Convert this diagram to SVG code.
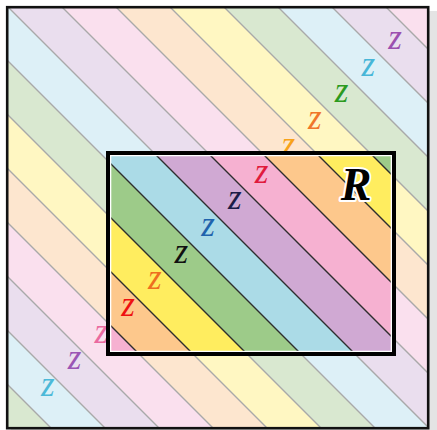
<svg xmlns="http://www.w3.org/2000/svg" width="437" height="430" viewBox="0 0 437 430">
<style>
.o0{fill:#eadeee}.o1{fill:#fae0ee}.o2{fill:#fde6cf}.o3{fill:#fff7c2}.o4{fill:#d9e8d0}.o5{fill:#ddf0f7}
.i0{fill:#d0a9d3}.i1{fill:#f6b1d1}.i2{fill:#fdc88c}.i3{fill:#ffed5f}.i4{fill:#9dcb89}.i5{fill:#abdbe7}
.z{font-family:"Liberation Serif","Times New Roman",serif;font-style:italic;font-size:35px;text-anchor:middle}
</style>
<defs>
<clipPath id="clipOuter"><rect x="8" y="8" width="420" height="420"/></clipPath>
<clipPath id="clipInner"><rect x="111.3" y="156.3" width="279.4" height="194.4"/></clipPath>
</defs>
<rect x="0" y="0" width="437" height="430" fill="#ffffff"/>
<rect id="shadow" x="11" y="11" width="430" height="430" fill="#e4e4e4"/>
<g id="outer" clip-path="url(#clipOuter)">
<rect x="0" y="0" width="437" height="430" fill="#fff"/>
<polygon class="o4" points="-451,-20 -397,-20 73,450 19,450"/>
<polygon class="o5" points="-397,-20 -343,-20 127,450 73,450"/>
<polygon class="o0" points="-343,-20 -289,-20 181,450 127,450"/>
<polygon class="o1" points="-289,-20 -235,-20 235,450 181,450"/>
<polygon class="o2" points="-235,-20 -181,-20 289,450 235,450"/>
<polygon class="o3" points="-181,-20 -127,-20 343,450 289,450"/>
<polygon class="o4" points="-127,-20 -73,-20 397,450 343,450"/>
<polygon class="o5" points="-73,-20 -19,-20 451,450 397,450"/>
<polygon class="o0" points="-19,-20 35,-20 505,450 451,450"/>
<polygon class="o1" points="35,-20 89,-20 559,450 505,450"/>
<polygon class="o2" points="89,-20 143,-20 613,450 559,450"/>
<polygon class="o3" points="143,-20 197,-20 667,450 613,450"/>
<polygon class="o4" points="197,-20 251,-20 721,450 667,450"/>
<polygon class="o5" points="251,-20 305,-20 775,450 721,450"/>
<polygon class="o0" points="305,-20 359,-20 829,450 775,450"/>
<polygon class="o1" points="359,-20 413,-20 883,450 829,450"/>
<path id="outerLines" fill="none" stroke="#a9a9a9" stroke-width="1.4" d="M-397 -20L73 450M-343 -20L127 450M-289 -20L181 450M-235 -20L235 450M-181 -20L289 450M-127 -20L343 450M-73 -20L397 450M-19 -20L451 450M35 -20L505 450M89 -20L559 450M143 -20L613 450M197 -20L667 450M251 -20L721 450M305 -20L775 450M359 -20L829 450"/>
</g>
<rect id="outerBorder" x="7.2" y="7.2" width="421" height="421" fill="none" stroke="#111" stroke-width="2.6"/>
<g id="outerLabels" class="z">
<text x="395" y="49" fill="#9c4fb0">z</text>
<text x="368.3" y="75.7" fill="#47b6d7">z</text>
<text x="341.6" y="102.4" fill="#2c9a1f">z</text>
<text x="314.9" y="129.1" fill="#f0762a">z</text>
<text x="288.2" y="155.8" fill="#f7a21b">z</text>
<text x="101.3" y="342.7" fill="#ea6aa0">z</text>
<text x="74.6" y="369.4" fill="#9b55b5">z</text>
<text x="47.9" y="396.1" fill="#4cb9d8">z</text>
</g>
<g id="regionR">
<rect x="110" y="155" width="282" height="197" fill="#fff"/>
<g clip-path="url(#clipInner)">
<polygon class="i1" points="-289,-20 -235,-20 235,450 181,450"/>
<polygon class="i2" points="-235,-20 -181,-20 289,450 235,450"/>
<polygon class="i3" points="-181,-20 -127,-20 343,450 289,450"/>
<polygon class="i4" points="-127,-20 -73,-20 397,450 343,450"/>
<polygon class="i5" points="-73,-20 -19,-20 451,450 397,450"/>
<polygon class="i0" points="-19,-20 35,-20 505,450 451,450"/>
<polygon class="i1" points="35,-20 89,-20 559,450 505,450"/>
<polygon class="i2" points="89,-20 143,-20 613,450 559,450"/>
<polygon class="i3" points="143,-20 197,-20 667,450 613,450"/>
<polygon class="i4" points="197,-20 251,-20 721,450 667,450"/>
<path id="innerLines" fill="none" stroke="#2e2e2e" stroke-width="1.4" d="M-235 -20L235 450M-181 -20L289 450M-127 -20L343 450M-73 -20L397 450M-19 -20L451 450M35 -20L505 450M89 -20L559 450M143 -20L613 450M197 -20L667 450"/>
</g>
<rect x="108" y="153" width="286" height="201" fill="none" stroke="#000" stroke-width="4"/>
<text x="356" y="200" font-family="'Liberation Serif','Times New Roman',serif" font-style="italic" font-weight="bold" font-size="46" text-anchor="middle" fill="#000" stroke="#fff" stroke-width="4" stroke-linejoin="round" paint-order="stroke">R</text>
</g>
<g id="innerLabels" class="z">
<text x="261.5" y="182.5" fill="#e01a3c">z</text>
<text x="234.8" y="209.2" fill="#1c1c48">z</text>
<text x="208.1" y="235.9" fill="#1f63ad">z</text>
<text x="181.4" y="262.6" fill="#111111">z</text>
<text x="154.7" y="289.3" fill="#ee6f1f">z</text>
<text x="128" y="316" fill="#ee1111">z</text>
</g>
</svg>
